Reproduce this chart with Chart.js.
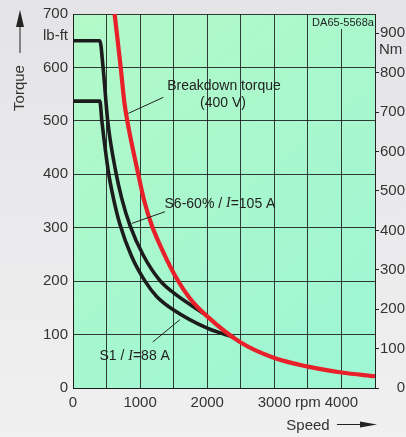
<!DOCTYPE html>
<html>
<head>
<meta charset="utf-8">
<script src="https://cdn.jsdelivr.net/npm/chart.js"></script>
<style>
    html, body { margin: 0; padding: 0; }
    body {
        width: 406px; height: 437px; overflow: hidden;
        background: linear-gradient(180deg, #e4e4e7 0%, #f0f0f1 100%);
    }
    #wrap { position: relative; width: 406px; height: 437px; }
</style>
</head>
<body>
<div id="wrap"><canvas id="torqueChart" width="406" height="437"></canvas></div>
<script>
// speed in rpm, torque in lb-ft
const redSpeed = [620, 711, 764, 809, 973, 1062, 1172, 1346, 1545, 1740, 2000, 2500, 3000, 3500, 4000, 4500];
const redTorque = [700, 600, 536, 500, 400, 350, 305, 254, 205, 168, 134, 85, 56, 40, 29, 22];

const s6Speed = [0, 400, 448, 517, 637, 726, 850, 1049, 1290, 1500, 1990];
const s6Torque = [650, 650, 600, 500, 405, 355, 304, 248, 202, 178, 136];

const s1Speed = [0, 400, 430, 527, 601, 700, 874, 1073, 1250, 1500, 2000, 2400];
const s1Torque = [537, 537, 500, 405, 356, 306, 246, 200, 171, 146, 112, 95];

const xTickLabels = { 0: '0', 1000: '1000', 2000: '2000', 3000: '3000', 3500: 'rpm', 4000: '4000' };
const NM_PER_LBFT = 1.35582;

const SANS = '"Liberation Sans", Arial, Helvetica, sans-serif';
const SERIF = '"Liberation Serif", "Times New Roman", serif';
const TEXT = '#333';
const GRID = 'rgba(25,25,25,0.85)';

function pts(xs, ys) {
    return xs.map((x, i) => ({ x: x, y: ys[i] }));
}

// draws text made of several font runs, centred on cx
function drawRuns(ctx, runs, cx, cy) {
    let total = 0;
    runs.forEach(r => { ctx.font = r.f; total += ctx.measureText(r.t).width; });
    let x = cx - total / 2;
    ctx.textAlign = 'left';
    ctx.textBaseline = 'middle';
    runs.forEach(r => {
        ctx.font = r.f;
        ctx.fillText(r.t, x, cy);
        x += ctx.measureText(r.t).width;
    });
}

let plotGradient = null;

const decorPlugin = {
    id: 'decor',
    beforeDraw(chart) {
        const { ctx, chartArea: a } = chart;
        plotGradient = ctx.createLinearGradient(a.left, a.top, a.right, a.bottom);
        plotGradient.addColorStop(0, '#b3f9c8');
        plotGradient.addColorStop(1, '#9df6d4');
        ctx.save();
        ctx.fillStyle = plotGradient;
        ctx.fillRect(a.left, a.top, a.right - a.left, a.bottom - a.top);
        ctx.restore();
    },
    afterDraw(chart) {
        const { ctx, chartArea: a } = chart;
        const xs = chart.scales.x, ys = chart.scales.y;
        const px = v => xs.getPixelForValue(v);
        const py = v => ys.getPixelForValue(v);
        const sans = '14px ' + SANS;
        const ital = 'italic 14px ' + SERIF;

        ctx.save();
        ctx.strokeStyle = '#222';

        // drawing number box at top right
        ctx.fillStyle = plotGradient;
        ctx.fillRect(a.right - 63, a.top + 1, 62, 14);
        ctx.fillStyle = '#222';
        ctx.font = '11px ' + SANS;
        ctx.textAlign = 'center';
        ctx.textBaseline = 'middle';
        ctx.fillText('DA65-5568a', a.right - 32, a.top + 9);

        // leader lines
        ctx.lineWidth = 1;
        [[1346, 544, 824, 514], [1371, 330, 875, 308], [1188, 86, 1594, 128]].forEach(l => {
            ctx.beginPath();
            ctx.moveTo(px(l[0]), py(l[1]));
            ctx.lineTo(px(l[2]), py(l[3]));
            ctx.stroke();
        });

        // curve labels
        ctx.fillStyle = '#222';
        drawRuns(ctx, [{ t: 'Breakdown torque', f: sans }], px(2250), py(565));
        drawRuns(ctx, [{ t: '(400 V)', f: sans }], px(2235), py(533));
        drawRuns(ctx, [{ t: 'S6-60% / ', f: sans }, { t: 'I', f: ital }, { t: '=105 A', f: sans }], px(2190), py(345));
        drawRuns(ctx, [{ t: 'S1 / ', f: sans }, { t: 'I', f: ital }, { t: '=88 A', f: sans }], px(919), py(60));

        // unit labels
        ctx.fillStyle = TEXT;
        ctx.font = '15px ' + SANS;
        ctx.textBaseline = 'middle';
        ctx.textAlign = 'right';
        ctx.fillText('lb-ft', a.left - 5, 36);
        ctx.textAlign = 'left';
        ctx.fillText('Nm', a.right + 4, 50);

        // axis titles with arrows
        ctx.save();
        ctx.translate(20, 88);
        ctx.rotate(-Math.PI / 2);
        ctx.textAlign = 'center';
        ctx.fillText('Torque', 0, 0);
        ctx.restore();

        ctx.fillStyle = '#222';
        ctx.beginPath();
        ctx.moveTo(20, 53);
        ctx.lineTo(20, 25);
        ctx.stroke();
        ctx.beginPath();
        ctx.moveTo(20, 10);
        ctx.lineTo(24, 27);
        ctx.lineTo(16, 27);
        ctx.closePath();
        ctx.fill();

        ctx.fillStyle = TEXT;
        ctx.textAlign = 'center';
        ctx.fillText('Speed', 308, 426);
        ctx.fillStyle = '#222';
        ctx.beginPath();
        ctx.moveTo(337, 424.5);
        ctx.lineTo(362, 424.5);
        ctx.stroke();
        ctx.beginPath();
        ctx.moveTo(377, 424.5);
        ctx.lineTo(360, 421.5);
        ctx.lineTo(360, 427.5);
        ctx.closePath();
        ctx.fill();

        ctx.restore();
    }
};

const ctx = document.getElementById('torqueChart').getContext('2d');
const torqueChart = new Chart(ctx, {
    type: 'line',
    data: {
        datasets: [
            {
                label: 'Breakdown torque (400 V)',
                data: pts(redSpeed, redTorque),
                borderColor: '#e8202a',
                borderWidth: 4.2,
                pointRadius: 0,
                cubicInterpolationMode: 'monotone'
            },
            {
                label: 'S6-60% / I=105 A',
                data: pts(s6Speed, s6Torque),
                borderColor: '#1c1c1c',
                borderWidth: 3.6,
                pointRadius: 0,
                cubicInterpolationMode: 'monotone'
            },
            {
                label: 'S1 / I=88 A',
                data: pts(s1Speed, s1Torque),
                borderColor: '#1c1c1c',
                borderWidth: 3.6,
                pointRadius: 0,
                cubicInterpolationMode: 'monotone'
            }
        ]
    },
    options: {
        responsive: false,
        animation: false,
        devicePixelRatio: 1,
        layout: { padding: { top: 12, left: 0, right: 0, bottom: 0 } },
        plugins: {
            legend: { display: false },
            tooltip: { enabled: false }
        },
        scales: {
            x: {
                type: 'linear',
                min: 0,
                max: 4500,
                afterFit: s => { s.height = 49; },
                grid: { color: GRID, lineWidth: 1, drawTicks: false },
                border: { display: true, color: GRID },
                ticks: {
                    stepSize: 500,
                    autoSkip: false,
                    maxRotation: 0,
                    padding: 6,
                    color: TEXT,
                    font: { family: SANS, size: 15 },
                    callback: v => (xTickLabels[v] !== undefined ? xTickLabels[v] : '')
                }
            },
            y: {
                type: 'linear',
                position: 'left',
                min: 0,
                max: 700,
                afterFit: s => { s.width = 73; },
                grid: { color: GRID, lineWidth: 1, drawTicks: false },
                border: { display: true, color: GRID },
                ticks: {
                    stepSize: 100,
                    padding: 5,
                    color: TEXT,
                    font: { family: SANS, size: 15 }
                }
            },
            nm: {
                type: 'linear',
                position: 'right',
                min: 0,
                max: 700 * NM_PER_LBFT,
                afterFit: s => { s.width = 31; },
                grid: { drawOnChartArea: false, color: '#222', tickLength: 4 },
                border: { display: true, color: '#222' },
                ticks: {
                    stepSize: 100,
                    includeBounds: false,
                    padding: 1,
                    color: TEXT,
                    font: { family: SANS, size: 15 },
                    callback: v => (v === 0 ? '    0' : String(v))
                }
            }
        }
    },
    plugins: [decorPlugin]
});
</script>
</body>
</html>
